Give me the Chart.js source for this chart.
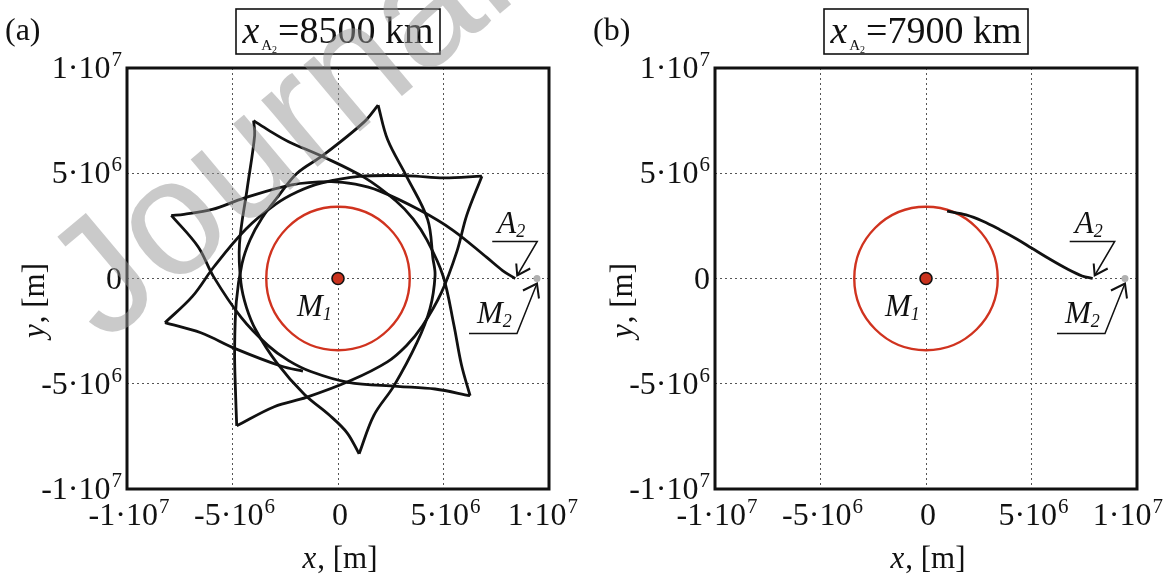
<!DOCTYPE html>
<html>
<head>
<meta charset="utf-8">
<script src="https://cdn.jsdelivr.net/npm/chart.js@4/dist/chart.umd.min.js"></script>
<style>
  html, body { margin: 0; padding: 0; background: #fff; }
  #wrap { position: relative; width: 1169px; height: 578px; overflow: hidden; }
  canvas { position: absolute; top: 0; }
</style>
</head>
<body>
<div id="wrap">
  <canvas id="chartA" width="584" height="578" style="left:0"></canvas>
  <canvas id="chartB" width="585" height="578" style="left:584px"></canvas>
</div>
<script>
// all coordinates in units of 10^6 m
const tickValues = [-10, -5, 0, 5, 10];
const tickMant = ["-1·10", "-5·10", "0", "5·10", "1·10"];
const tickPow = ["7", "6", "", "6", "7"];

const radiusM1 = 3.4;
const posM1 = [0, 0];
const posM2 = [9.43, 0];
const posA2a = [8.4, 0];
const posA2b = [7.9, 0];
const titleA = "=8500 km";
const titleB = "=7900 km";

// panel (a): trajectory, one arc between two cusps per array
const arc1 = [[8.4,0],[7.8,0.38],[7.05,1.0],[5.45,2.29],[3.89,3.24],[1.98,4.15],[0.82,4.48],[-0.36,4.6],[-2.2,4.45],[-4.45,3.82],[-5.96,3.28],[-7.3,3.05],[-7.9,3.0]];
const arc2 = [[-7.9,3.0],[-6.63,1.51],[-5.9,0.09],[-4.59,-1.85],[-3.31,-3.19],[-2.36,-3.89],[-1.29,-4.42],[0.48,-4.93],[2.82,-5.12],[4.6,-5.25],[6.26,-5.57]];
const arc3 = [[6.26,-5.57],[5.85,-4.1],[5.49,-2.2],[4.98,0.12],[4.22,1.82],[3.57,2.82],[2.75,3.68],[1.26,4.79],[-0.83,5.84],[-2.34,6.5],[-3.3,7.05],[-4.0,7.5]];
const arc4 = [[-4.0,7.5],[-3.95,6.8],[-4.3,4.3],[-4.67,1.63],[-4.6,-0.21],[-4.34,-1.37],[-3.89,-2.46],[-2.9,-4.01],[-1.6,-5.5],[-0.4,-6.5],[0.43,-7.33],[1.0,-8.33]];
const arc5 = [[1.0,-8.33],[1.7,-6.5],[2.65,-5.1],[3.74,-3.05],[4.36,-1.43],[4.6,0.14],[4.5,0.95],[4.25,2.8],[3.25,4.85],[2.35,6.6],[1.9,8.24]];
const arc6 = [[1.9,8.24],[1.23,7.43],[-0.7,5.86],[-1.94,5.0],[-2.8,3.95],[-3.6,2.87],[-4.17,1.83],[-4.55,0.7],[-4.82,-1.11],[-4.9,-3.45],[-4.86,-5.3],[-4.8,-7.0]];
const arc7 = [[-4.8,-7.0],[-3.02,-6.09],[-1.5,-5.65],[0.6,-4.85],[2.34,-3.96],[3.25,-3.18],[4.0,-2.26],[4.91,-0.65],[5.64,1.3],[6.1,3.0],[6.82,4.86]];
const arc8 = [[6.82,4.86],[5.0,4.78],[3.35,4.88],[1.01,4.85],[-0.8,4.53],[-1.92,4.12],[-2.95,3.53],[-4.36,2.35],[-5.87,0.57],[-6.9,-0.85],[-8.2,-2.1]];
const arc9 = [[-8.2,-2.1],[-6.5,-2.58],[-4.87,-3.33],[-2.67,-4.17],[-1.66,-4.4]];

// panel (b): trajectory from A2 to the surface of M1
const arcB = [[1.0,3.2],[1.9,3.02],[2.7,2.72],[3.5,2.32],[4.3,1.88],[5.0,1.45],[5.9,0.9],[6.7,0.45],[7.4,0.12],[7.9,0]];

const SERIF = '"Liberation Serif", "Times New Roman", serif';
const pts = a => a.map(p => ({ x: p[0], y: p[1] }));

function trajSet(a) {
  return {
    data: pts(a), showLine: true, borderColor: "#111", borderWidth: 2.8,
    tension: 0.35, pointRadius: 0, fill: false, order: 1
  };
}

function circleSet() {
  return {
    data: pts([posM1]), showLine: false, order: 3,
    pointRadius: c => {
      const s = c.chart.scales.x;
      return s ? Math.abs(s.getPixelForValue(radiusM1) - s.getPixelForValue(0)) : 0;
    },
    pointBackgroundColor: "rgba(0,0,0,0)", pointBorderColor: "#d0331f", pointBorderWidth: 2.4
  };
}

function dotSets() {
  return [
    { data: pts([posM1]), showLine: false, order: 0, pointRadius: 6,
      pointBackgroundColor: "#c9321d", pointBorderColor: "#111", pointBorderWidth: 1.6 },
    { data: pts([posM2]), showLine: false, order: 0, pointRadius: 3.5,
      pointBackgroundColor: "#b0b0b0", pointBorderColor: "#b0b0b0", pointBorderWidth: 0 }
  ];
}

function drawSup(ctx, x, y, mant, pow, align, maxRight) {
  ctx.font = "32px " + SERIF;
  const w1 = ctx.measureText(mant).width;
  ctx.font = "21px " + SERIF;
  const w2 = pow ? ctx.measureText(pow).width + 1 : 0;
  let x0 = align === "right" ? x - w1 - w2 : x - (w1 + w2) / 2;
  if (maxRight) x0 = Math.min(x0, maxRight - w1 - w2);
  ctx.font = "32px " + SERIF;
  ctx.fillText(mant, x0, y);
  if (pow) { ctx.font = "21px " + SERIF; ctx.fillText(pow, x0 + w1 + 1, y - 12); }
}

function runs(ctx, x, y, parts) {
  // parts: [text, font, dy, extra gap]
  let cx = x;
  parts.forEach(p => {
    ctx.font = p[1];
    ctx.fillText(p[0], cx, y + (p[2] || 0));
    cx += ctx.measureText(p[0]).width + (p[3] || 0);
  });
  return cx;
}
function runsWidth(ctx, parts) {
  let w = 0;
  parts.forEach(p => { ctx.font = p[1]; w += ctx.measureText(p[0]).width + (p[3] || 0); });
  return w;
}

function arrowHead(ctx, tx, ty, b1, b2) {
  ctx.beginPath();
  ctx.moveTo(tx + b1[0], ty + b1[1]); ctx.lineTo(tx, ty); ctx.lineTo(tx + b2[0], ty + b2[1]);
  ctx.stroke();
}

const decoPlugin = {
  id: "deco",
  afterDraw(chart, args, o) {
    const ctx = chart.ctx, a = chart.chartArea, sx = chart.scales.x, sy = chart.scales.y;
    ctx.save();
    ctx.fillStyle = "#111";
    ctx.strokeStyle = "#111";
    ctx.textBaseline = "alphabetic";
    ctx.textAlign = "left";

    // frame
    ctx.lineWidth = 3;
    ctx.strokeRect(a.left, a.top, a.right - a.left, a.bottom - a.top);

    // tick labels
    tickValues.forEach((v, i) => {
      drawSup(ctx, a.left - 5, sy.getPixelForValue(v) + 10, tickMant[i], tickPow[i], "right");
      drawSup(ctx, sx.getPixelForValue(v) + 2, a.bottom + 36, tickMant[i], tickPow[i], "center", chart.width - 6);
    });

    // axis titles
    const it = "italic 31px " + SERIF, nt = "31px " + SERIF;
    const xt = [["x", it, 0, 1], [", [m]", nt]];
    runs(ctx, (a.left + a.right) / 2 + 2 - runsWidth(ctx, xt) / 2, a.bottom + 79, xt);
    const yt = [["y", it, 0, 1], [", [m]", nt]];
    ctx.save();
    ctx.translate(a.left - 83, (a.top + a.bottom) / 2 + 22);
    ctx.rotate(-Math.PI / 2);
    runs(ctx, -runsWidth(ctx, yt) / 2, 0, yt);
    ctx.restore();

    // panel letter
    ctx.font = "32px " + SERIF;
    ctx.fillText(o.letter, o.letterX, 40);

    // title box
    const tp = [["x", "italic 38px " + SERIF, 0, 2], ["A", "15px " + SERIF, 7], ["2", "10px " + SERIF, 10, 1], [o.title, "38px " + SERIF]];
    const cx = (a.left + a.right) / 2;
    ctx.lineWidth = 1.6;
    ctx.strokeRect(cx - 102, 9, 204, 45);
    runs(ctx, cx - runsWidth(ctx, tp) / 2, 43, tp);

    // M1 label
    const m1x = sx.getPixelForValue(posM1[0]), m0y = sy.getPixelForValue(0);
    runs(ctx, m1x - 41, m0y + 37, [["M", "italic 31px " + SERIF], ["1", "italic 18px " + SERIF, 4]]);

    // A2 label and arrow
    const ax = sx.getPixelForValue(o.a2[0]);
    runs(ctx, ax - 18, m0y - 46, [["A", "italic 31px " + SERIF], ["2", "italic 18px " + SERIF, 4]]);
    ctx.lineWidth = 1.5;
    ctx.beginPath();
    ctx.moveTo(ax - 23, m0y - 37); ctx.lineTo(ax + 22, m0y - 37); ctx.lineTo(ax + 2, m0y - 3);
    ctx.stroke();
    ctx.lineWidth = 2;
    arrowHead(ctx, ax + 2, m0y - 3, [-1, -12], [13, -7]);

    // M2 label and arrow
    const mx = sx.getPixelForValue(posM2[0]);
    runs(ctx, mx - 60, m0y + 44, [["M", "italic 31px " + SERIF], ["2", "italic 18px " + SERIF, 4]]);
    ctx.lineWidth = 1.5;
    ctx.beginPath();
    ctx.moveTo(mx - 68, m0y + 55); ctx.lineTo(mx - 20, m0y + 55); ctx.lineTo(mx, m0y + 5);
    ctx.stroke();
    ctx.lineWidth = 2;
    arrowHead(ctx, mx, m0y + 5, [-14, 7], [2, 15]);

    // watermark
    if (o.watermark) {
      ctx.save();
      ctx.translate(o.watermark[0], o.watermark[1]);
      ctx.rotate(-40 * Math.PI / 180);
      ctx.font = '165px "Liberation Sans", Arial, sans-serif';
      ctx.fillStyle = "rgba(150,150,150,0.5)";
      ctx.fillText("Journal Pre-proof", 0, 0);
      ctx.restore();
    }
    ctx.restore();
  }
};

function axis(which, size) {
  return {
    type: "linear", min: -10, max: 10,
    afterBuildTicks: s => { s.ticks = tickValues.map(v => ({ value: v })); },
    afterFit: s => { if (which === "x") s.height = size; else s.width = size; },
    ticks: { display: false },
    grid: {
      drawTicks: false, lineWidth: 1,
      color: c => (c.tick && Math.abs(c.tick.value) === 10) ? "rgba(0,0,0,0)" : "#555"
    },
    border: { display: false, dash: [2, 3] }
  };
}

function makeChart(id, datasets, padRight, yWidth, deco) {
  return new Chart(document.getElementById(id), {
    type: "scatter",
    data: { datasets: datasets },
    options: {
      responsive: false, animation: false, devicePixelRatio: 1,
      layout: { padding: { left: 0, right: padRight, top: 68, bottom: 0 } },
      scales: { x: axis("x", 89), y: axis("y", yWidth) },
      plugins: { legend: { display: false }, tooltip: { enabled: false }, deco: deco },
      events: []
    },
    plugins: [decoPlugin]
  });
}

makeChart("chartA",
  [circleSet(), ...[arc1, arc2, arc3, arc4, arc5, arc6, arc7, arc8, arc9].map(trajSet), ...dotSets()],
  35, 127,
  { letter: "(a)", letterX: 5, title: titleA, a2: posA2a, watermark: [105, 345] });

makeChart("chartB",
  [circleSet(), trajSet(arcB), ...dotSets()],
  32, 131,
  { letter: "(b)", letterX: 9, title: titleB, a2: posA2b, watermark: null });
</script>
</body>
</html>
